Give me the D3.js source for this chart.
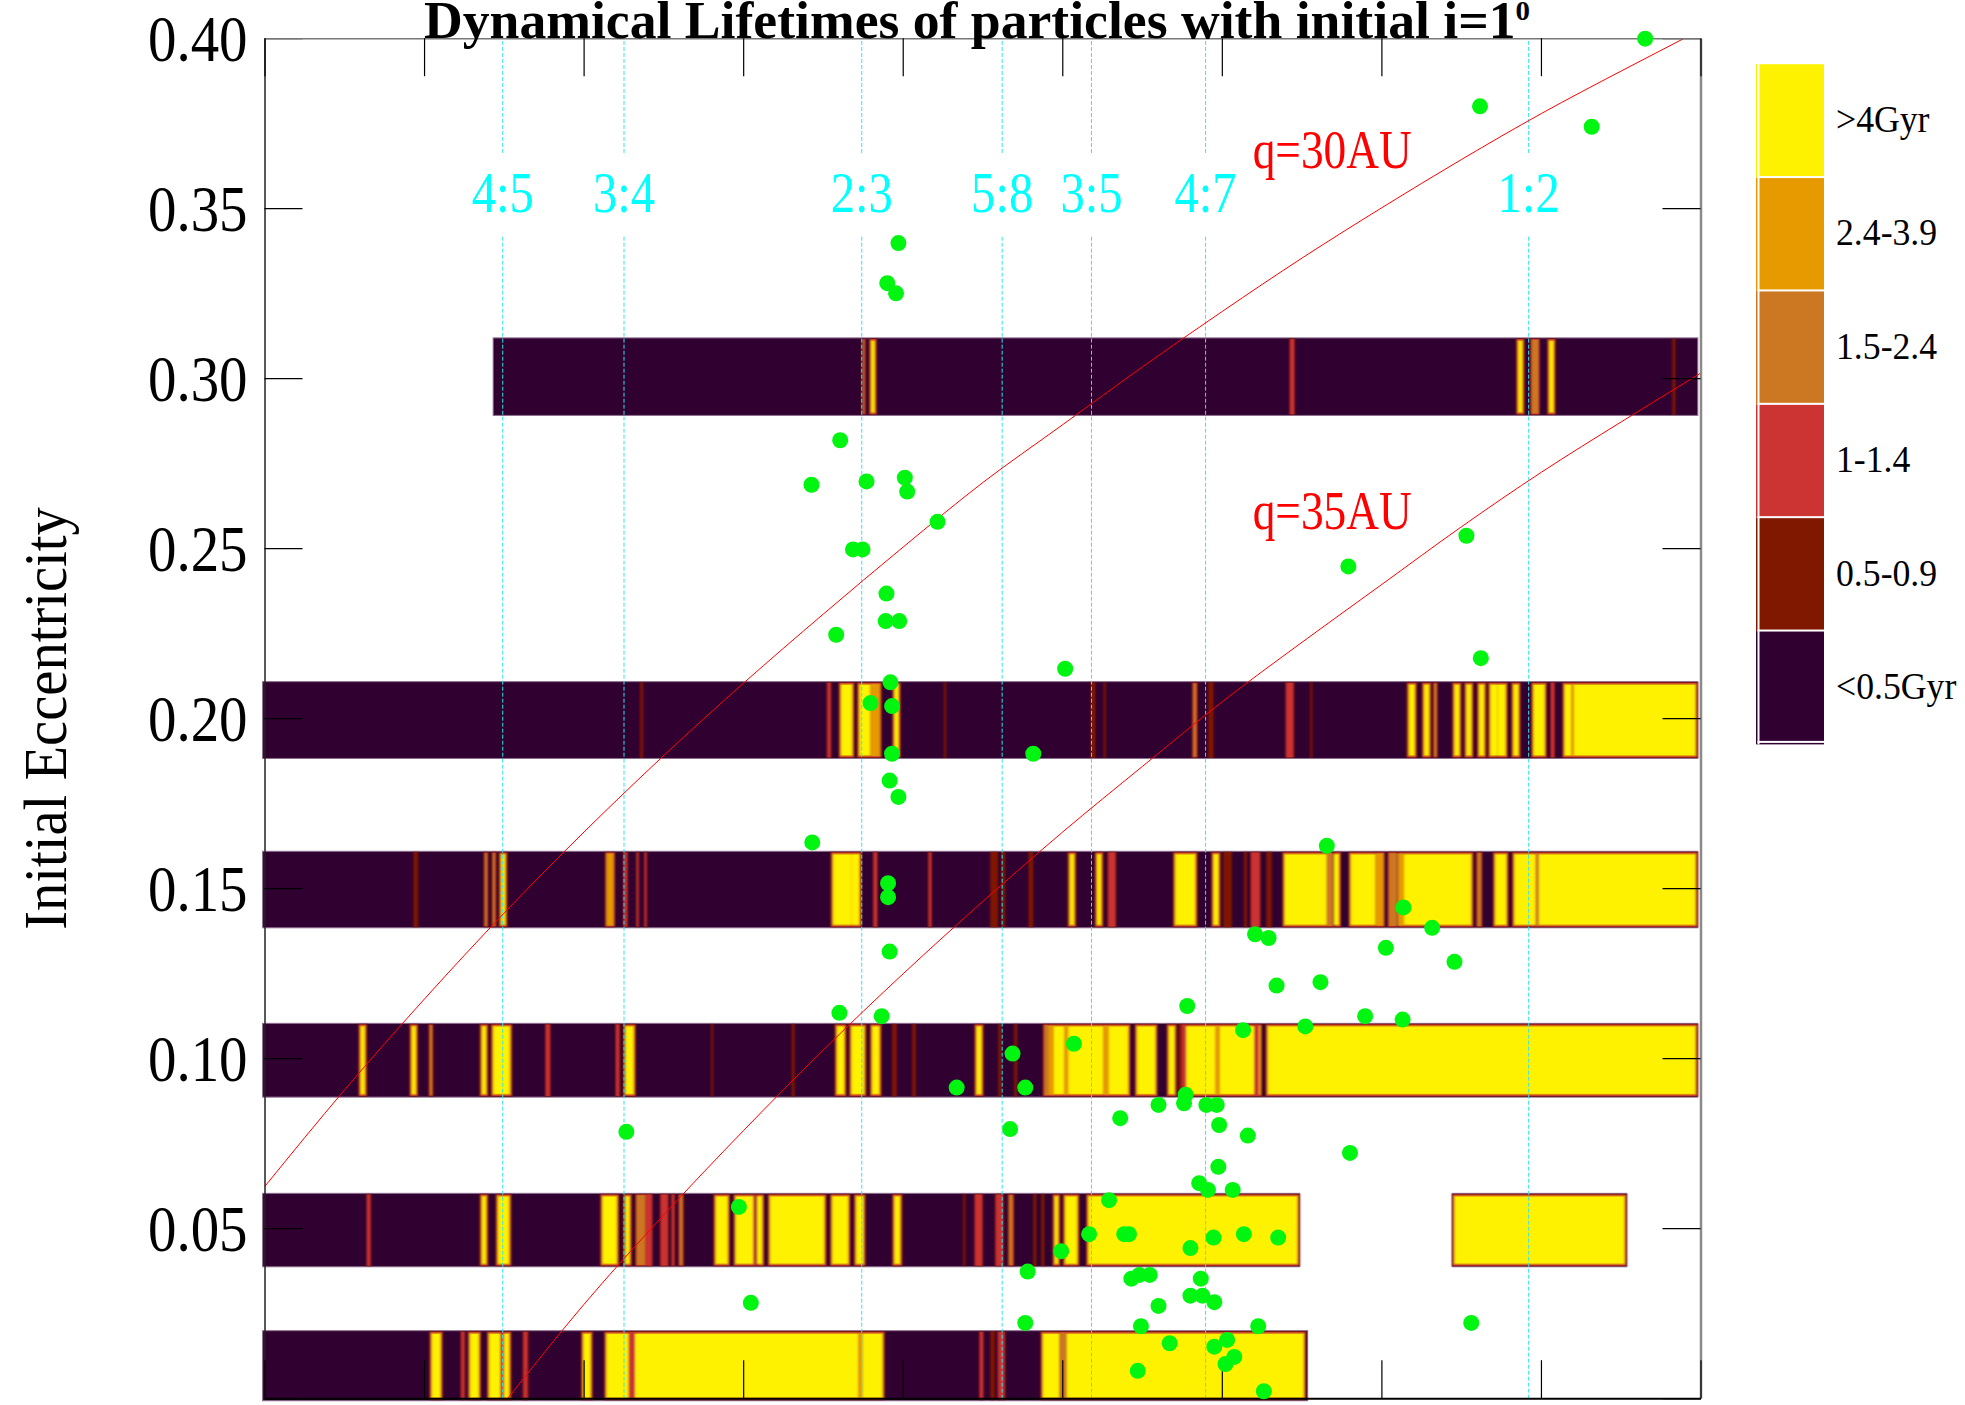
<!DOCTYPE html>
<html><head><meta charset="utf-8">
<script src="https://cdn.jsdelivr.net/npm/d3@7"></script>
<style>html,body{margin:0;padding:0;background:#fff;overflow:hidden}svg{display:block}text{font-family:"Liberation Serif",serif}</style>
</head><body><svg id="c" width="1965" height="1405"></svg>
<script>
const xTicks=[32,34,36,38,40,42,44,46,48,50];
const yTicks=[0,0.05,0.10,0.15,0.20,0.25,0.30,0.35,0.40];
const levelColors=["#300030","#801800","#cc3333","#cc7722","#e69a00","#fff200"];
const levelLabels=["<0.5Gyr","0.5-0.9","1-1.4","1.5-2.4","2.4-3.9",">4Gyr"];
const resonanceNames=["4:5","3:4","2:3","5:8","3:5","4:7","1:2"];
const resonanceA=[34.98,36.50,39.48,41.24,42.36,43.79,47.84];
const resonanceLabelGapE=[0.3423,0.3664];
const q30Curve=[[32,.0625],[33,.0909],[34,.1176],[35,.1429],[36,.1667],[37,.1892],[38,.2105],[39,.2308],[40,.2505],[41,.2695],[42,.2865],[43,.3035],[44,.3198],[45,.3355],[46,.3503],[47,.3645],[48,.3780],[49,.3905],[49.78,.4]];
const q35Curve=[[35.04,0],[36,.0278],[37,.0541],[38,.0789],[39,.1026],[40,.125],[41,.1463],[42,.1667],[43,.186],[44,.2050],[45,.2225],[46,.2395],[47,.2565],[48,.2725],[49,.2873],[50,.3017]];
const curveLabels=[["q=30AU",44.38,.3620],["q=35AU",44.38,.2558]];

const stripes030=[[39.48,39.53,3],[39.57,39.67,5],[44.84,44.91,2],[47.68,47.79,5],[47.86,47.98,3],[48.07,48.18,5],[49.64,49.68,1]];
const stripes020=[[36.70,36.74,1],[39.04,39.10,2],[39.19,39.39,5],[39.42,39.59,5],[39.59,39.73,4],[39.86,39.97,5],[40.51,40.54,1],[42.35,42.41,1],[42.51,42.54,1],[43.62,43.69,3],[43.82,43.89,1],[44.79,44.90,2],[45.10,45.13,1],[46.31,46.44,5],[46.50,46.62,5],[46.64,46.70,4],[46.88,47.00,5],[47.03,47.15,5],[47.19,47.31,5],[47.33,47.45,5],[47.45,47.58,5],[47.62,47.74,5],[47.87,48.07,5],[48.11,48.17,2],[48.26,48.38,5],[48.38,48.41,4],[48.41,49.96,5]];
const stripes015=[[33.86,33.92,1],[34.74,34.80,3],[34.84,34.90,3],[34.93,35.04,5],[36.26,36.39,4],[36.49,36.55,2],[36.65,36.69,2],[36.75,36.79,2],[39.09,39.35,5],[39.35,39.48,5],[39.62,39.68,2],[40.31,40.36,2],[41.09,41.19,1],[41.23,41.28,1],[41.57,41.63,1],[42.06,42.17,5],[42.40,42.51,5],[42.56,42.67,2],[43.38,43.69,5],[43.86,43.98,5],[44.01,44.12,1],[44.27,44.31,1],[44.35,44.48,2],[44.55,44.62,1],[44.75,45.31,5],[45.31,45.39,3],[45.40,45.49,5],[45.58,45.92,5],[45.92,46.04,4],[46.07,46.19,3],[46.20,46.28,4],[46.28,47.15,5],[47.18,47.26,3],[47.39,47.59,5],[47.63,47.93,5],[47.93,47.97,3],[47.97,49.96,5]];
const stripes010=[[33.17,33.28,5],[33.81,33.92,5],[34.05,34.11,4],[34.69,34.80,5],[34.83,35.10,5],[35.51,35.58,2],[36.39,36.45,2],[36.49,36.65,5],[37.59,37.62,1],[38.60,38.64,1],[39.14,39.29,5],[39.32,39.54,5],[39.58,39.73,5],[39.86,39.92,1],[40.11,40.16,1],[40.89,41.01,5],[41.19,41.23,1],[41.39,41.43,1],[41.75,41.82,3],[41.82,41.89,4],[41.89,42.02,5],[42.02,42.07,4],[42.07,42.51,5],[42.51,42.58,4],[42.58,42.85,5],[42.90,43.19,5],[43.30,43.43,5],[43.45,43.49,1],[43.49,43.55,2],[43.55,43.91,5],[43.91,43.97,4],[43.97,44.40,5],[44.40,44.46,2],[44.46,44.50,5],[44.54,49.96,5]];
const stripes005=[[33.27,33.33,2],[34.69,34.80,5],[34.89,35.09,5],[36.20,36.44,5],[36.49,36.60,5],[36.64,36.77,3],[36.77,36.86,2],[36.95,37.06,2],[37.09,37.14,2],[37.18,37.25,3],[37.62,37.83,5],[37.87,38.12,5],[38.12,38.16,2],[38.17,38.26,5],[38.30,39.04,5],[39.08,39.34,5],[39.38,39.53,5],[39.86,39.99,5],[40.75,40.78,1],[40.89,41.00,2],[41.15,41.26,2],[41.31,41.39,3],[41.63,41.67,1],[41.73,41.77,1],[41.87,41.97,5],[42.00,42.21,5],[42.29,44.97,5],[46.88,49.07,5]];
const stripes001=[[34.06,34.23,5],[34.45,34.51,2],[34.54,34.71,5],[34.78,34.95,5],[34.95,35.00,2],[35.00,35.09,5],[35.23,35.30,2],[35.96,36.11,5],[36.25,36.56,5],[36.56,36.64,2],[36.64,39.44,5],[39.44,39.49,4],[39.49,39.77,5],[40.95,41.01,2],[41.09,41.15,1],[41.18,41.28,2],[41.72,41.96,5],[41.96,42.05,3],[42.05,45.05,5]];

const bandNames=["e030","e020","e015","e010","e005","e005b","e001"];
const bandTopE=[.3120,.2109,.1610,.1104,.0604,.0604,.0200];
const bandBottomE=[.2892,.1883,.1385,.0887,.0388,.0388,-.0006];
const bandStartA=[34.86,31.97,31.97,31.97,31.97,46.88,31.97];
const bandEndA=[49.96,49.96,49.96,49.96,44.97,49.07,45.07];
const bandStripes=[stripes030,stripes020,stripes015,stripes010,stripes005.slice(0,-1),stripes005.slice(-1),stripes001];

const particles=[[49.30,.4000],[47.23,.3801],[48.63,.3741],[39.94,.3399],[39.80,.3281],[39.91,.3251],[39.21,.2819],[38.85,.2688],[39.54,.2698],[40.02,.2709],[40.05,.2668],[40.43,.2579],[39.37,.2498],[39.49,.2498],[39.79,.2368],[39.78,.2287],[39.95,.2287],[39.16,.2247],[42.03,.2147],[39.84,.2107],[39.59,.2046],[39.86,.2037],[39.86,.1897],[41.63,.1897],[47.06,.2538],[45.58,.2448],[47.24,.2178],[39.83,.1818],[39.94,.1770],[38.86,.1636],[45.31,.1626],[39.81,.1516],[39.81,.1475],[39.83,.1315],[39.20,.1135],[39.73,.1125],[41.37,.1015],[40.67,.0915],[41.53,.0915],[46.27,.1445],[46.63,.1385],[44.41,.1366],[44.58,.1355],[46.05,.1326],[46.91,.1285],[44.68,.1215],[45.23,.1225],[43.56,.1155],[44.26,.1084],[45.04,.1095],[45.79,.1125],[46.26,.1115],[42.14,.1044],[43.54,.0894],[43.20,.0864],[43.52,.0869],[43.80,.0864],[43.93,.0864],[42.72,.0825],[43.96,.0805],[45.60,.0723],[44.32,.0774],[41.34,.0793],[36.53,.0785],[43.95,.0682],[43.71,.0634],[43.82,.0614],[44.13,.0614],[42.58,.0584],[42.33,.0484],[42.77,.0484],[42.83,.0484],[43.89,.0474],[44.27,.0484],[44.70,.0474],[43.60,.0443],[41.98,.0434],[41.56,.0374],[43.09,.0364],[42.96,.0364],[42.86,.0353],[43.73,.0353],[43.60,.0303],[43.75,.0303],[43.90,.0284],[43.20,.0273],[41.53,.0223],[42.98,.0213],[44.45,.0213],[47.12,.0223],[43.34,.0163],[44.06,.0173],[43.90,.0153],[44.15,.0123],[44.04,.0102],[42.94,.0082],[44.52,.0022],[37.94,.0564],[38.09,.0282]];

const titleMain="Dynamical Lifetimes of particles with initial i=1";
const titleSup="0";
const yTitle="Initial Eccentricity";

const svg=d3.select("#c");
const defs=svg.append("defs");
defs.append("filter").attr("id","soft").attr("x","-1%").attr("y","-5%").attr("width","102%").attr("height","110%")
  .append("feGaussianBlur").attr("stdDeviation","0.8 0.35");
const x=d3.scaleLinear().domain([32,50]).range([265,1701]);
const y=d3.scaleLinear().domain([0,0.4]).range([1398.7,38.7]);
const step=0.7;

// bands
const gBands=svg.append("g");
bandNames.forEach((name,bi)=>{
  const g=gBands.append("g").attr("class",name);
  g.append("rect")
    .attr("x",x(bandStartA[bi])).attr("width",x(bandEndA[bi])-x(bandStartA[bi]))
    .attr("y",y(bandTopE[bi])).attr("height",y(bandBottomE[bi])-y(bandTopE[bi]))
    .attr("fill",levelColors[0]).attr("stroke","#8e6e8e").attr("stroke-width",1);
  const st=bandStripes[bi];
  const layers=st.flatMap((s,i)=>{
    const prev=st[i-1],next=st[i+1];
    const la=prev&&s[0]-prev[1]<0.011, ra=next&&next[0]-s[1]<0.011;
    return d3.range(1,s[2]+1).map(k=>({a0:s[0],a1:s[1],k,la,ra}));
  });
  g.append("g").attr("filter","url(#soft)").selectAll("rect").data(layers).join("rect")
    .attr("x",d=>x(d.a0)+(d.la?0:(d.k-1)*step))
    .attr("width",d=>Math.max(0.4,x(d.a1)-x(d.a0)-(d.la?0:(d.k-1)*step)-(d.ra?0:(d.k-1)*step)))
    .attr("y",d=>y(bandTopE[bi])+0.5+(d.k-1)*step)
    .attr("height",d=>y(bandBottomE[bi])-y(bandTopE[bi])-1-2*(d.k-1)*step)
    .attr("fill",d=>levelColors[d.k]);
});

// resonances
const gRes=svg.append("g");
resonanceA.forEach((a,i)=>{
  [[0,resonanceLabelGapE[0]],[resonanceLabelGapE[1],0.4]].forEach(r=>{
    gRes.append("line").attr("x1",x(a)).attr("x2",x(a)).attr("y1",y(r[0])).attr("y2",y(r[1]))
      .attr("stroke","#2fe6ee").attr("stroke-width",1).attr("stroke-dasharray","4,2");
  });
  gRes.append("text").text(resonanceNames[i])
    .attr("transform",`translate(${x(a)},${y(0.35)+3.5}) scale(.87,1)`)
    .attr("text-anchor","middle").attr("font-size",56).attr("fill","#00ffff");
});

// q curves
const line=d3.line().x(d=>x(d[0])).y(d=>y(d[1])).curve(d3.curveMonotoneX);
[q30Curve,q35Curve].forEach(c=>svg.append("path").attr("d",line(c)).attr("fill","none").attr("stroke","#ff0000").attr("stroke-width",1));
curveLabels.forEach(l=>svg.append("text").text(l[0])
  .attr("transform",`translate(${x(l[1])},${y(l[2])}) scale(.84,1)`)
  .attr("font-size",54).attr("fill","#ff0000"));

// axes
const tick=38;
function styleAxis(g,col,w){g.selectAll("path").attr("stroke",col).attr("stroke-width",w);g.selectAll("line").attr("stroke","#000").attr("stroke-width",1.2);}
const axL=svg.append("g").attr("transform",`translate(${x(32)-.5},-.5)`).call(d3.axisLeft(y).tickValues(yTicks).tickSize(-tick).tickSizeOuter(0).tickFormat(d=>d===0?"":d3.format(".2f")(d)));
styleAxis(axL,"#222",1.5);
axL.selectAll("text").attr("x",0).attr("dy",0).attr("y",22.5).attr("text-anchor","end")
  .attr("transform","translate(-17,0) scale(.875,1)").attr("font-size",65).attr("fill","#000").style("font-family",'"Liberation Serif",serif');
const axR=svg.append("g").attr("transform",`translate(${x(50)-.5},-.5)`).call(d3.axisRight(y).tickValues(yTicks).tickSize(-tick).tickSizeOuter(0).tickFormat(""));
styleAxis(axR,"#8a8a8a",2.5);
const axT=svg.append("g").attr("transform",`translate(-.5,${y(0.4)-.5})`).call(d3.axisTop(x).tickValues(xTicks).tickSize(-tick).tickSizeOuter(0).tickFormat(""));
styleAxis(axT,"#777",1.5);
const axB=svg.append("g").attr("transform",`translate(-.5,${y(0)-.5})`).call(d3.axisBottom(x).tickValues(xTicks).tickSize(-tick).tickSizeOuter(0).tickFormat(""));
styleAxis(axB,"#000",2);

// title & labels
const t=svg.append("text").attr("transform","translate(424,37.5) scale(1.032,1)").attr("font-size",52).attr("font-weight","bold").attr("fill","#000");
t.append("tspan").text(titleMain);
t.append("tspan").text(titleSup).attr("dy",-18).attr("font-size",28);
svg.append("text").text(yTitle).attr("transform","translate(66,718.5) scale(1.09,1) rotate(-90)")
  .attr("text-anchor","middle").attr("font-size",56.6).attr("fill","#000");

// legend
const legY=d3.scaleBand().domain(d3.range(levelColors.length)).range([744.4,64.2]);
const gLeg=svg.append("g");
levelColors.forEach((c,i)=>{
  const top=legY(i),h=legY.bandwidth();
  gLeg.append("rect").attr("x",1756).attr("width",68).attr("y",top).attr("height",h).attr("fill",c);
  gLeg.append("rect").attr("x",1757.5).attr("width",2).attr("y",top).attr("height",h).attr("fill","#fff");
  gLeg.append("rect").attr("x",1757.5).attr("width",66.5).attr("y",i===0?top+h-3.5:top+h-1.5).attr("height",2).attr("fill","#fff");
  gLeg.append("text").text(levelLabels[i])
    .attr("transform",`translate(1836,${top+h-45.5}) scale(.94,1)`)
    .attr("font-size",38).attr("fill","#000");
});

// particles
svg.append("g").selectAll("circle").data(particles).join("circle")
  .attr("cx",d=>x(d[0])).attr("cy",d=>y(d[1])).attr("r",8).attr("fill","#00f510");
</script></body></html>
